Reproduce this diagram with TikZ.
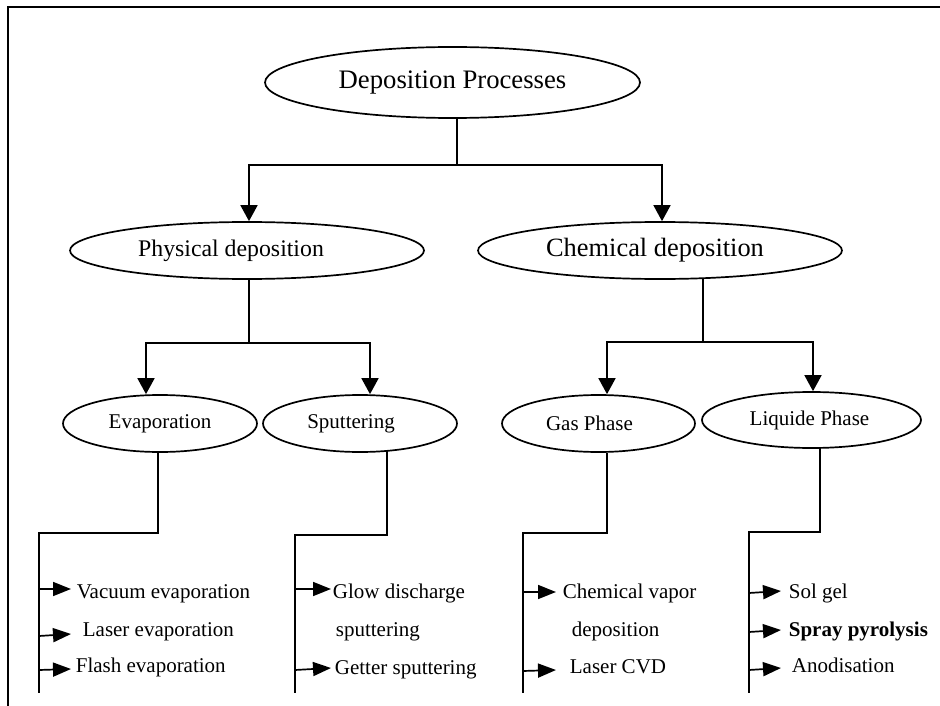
\documentclass[tikz,border=0pt]{standalone}
\usepackage{fontspec}
\setmainfont{Liberation Serif}
\usetikzlibrary{shapes.geometric,arrows.meta}
\begin{document}
\begin{tikzpicture}[x=1pt,y=-1pt,line width=1.7pt,
  ell/.style={draw,ellipse,inner sep=0pt,line width=1.7pt},
  fs/.style={font=\fontsize{#1}{#1}\selectfont},
  leaf/.style={anchor=base west,inner sep=0pt,font=\fontsize{21}{25}\selectfont},
  arr/.style={-{Triangle[length=16pt,width=17pt]}},
  sarr/.style={-{Triangle[length=18pt,width=14pt]}}]
\useasboundingbox (0,0) rectangle (940,706);
% frame
\coordinate (fa) at (8,706);
\coordinate (fb) at (8,7);
\coordinate (fc) at (940,7);
\draw (fa) -- (fb) -- (fc);
% ellipses
\node[ell,minimum width=375pt,minimum height=71pt,fs=26.7] (dp) at (452.5,82.5) {Deposition Processes};
\node[ell,minimum width=354pt,minimum height=57pt,fs=23.8] (ph) at (247,250.5) {Physical deposition\hspace*{32pt}};
\node[ell,minimum width=364pt,minimum height=57pt,fs=26.4] (ch) at (660,250.5) {Chemical deposition\hspace*{10pt}};
\node[ell,minimum width=194pt,minimum height=57pt,fs=21] (ev) at (160,423.5) {Evaporation};
\node[ell,minimum width=194pt,minimum height=57pt,fs=21] (sp) at (360,423.5) {Sputtering\hspace*{18pt}};
\node[ell,minimum width=193pt,minimum height=57pt,fs=21] (gp) at (598.5,423.5) {Gas Phase\hspace*{18pt}};
\node[ell,minimum width=219pt,minimum height=56pt,fs=21] (lp) at (811.5,420) {Liquide Phase\hspace*{4pt}};
% top level connectors
\coordinate (j0) at (457,165);
\coordinate (j0l) at (249,165);
\coordinate (j0r) at (662,165);
\draw (j0 |- dp.south) -- (j0);
\draw[arr] (j0) -- (j0l) -- (j0l |- ph.north);
\draw[arr] (j0) -- (j0r) -- (j0r |- ch.north);
% physical
\coordinate (j1) at (249,343);
\coordinate (j1l) at (146,343);
\coordinate (j1r) at (370,343);
\draw (j1 |- ph.south) -- (j1);
\draw[arr] (j1) -- (j1l) -- (j1l |- ev.north);
\draw[arr] (j1) -- (j1r) -- (j1r |- sp.north);
% chemical
\coordinate (j2) at (703,342);
\coordinate (j2l) at (607,342);
\coordinate (j2r) at (813,342);
\draw (j2 |- ch.south) -- ++(0,-1) -- (j2);
\draw[arr] (j2) -- (j2l) -- (j2l |- gp.north);
\draw[arr] (j2) -- (j2r) -- (j2r |- lp.north);
% evaporation leaves
\coordinate (e1) at (158,533);
\coordinate (e2) at (39,533);
\coordinate (e3) at (39,693);
\draw (e1 |- ev.south) -- (e1) -- (e2) -- (e3);
\node[leaf] (ve) at (76,598) {Vacuum evaporation};
\node[leaf] (le) at (82,636) {Laser evaporation};
\node[leaf] (fe) at (75,672) {Flash evaporation};
\coordinate (ea1) at (39,589);
\coordinate (ea2) at (39,636);
\coordinate (ea3) at (39,670);
\draw[sarr] (ea1) -- ++(32,0);
\draw[sarr] (ea2) -- ++(32,-2);
\draw[sarr] (ea3) -- ++(32,-1);
% sputtering leaves
\coordinate (s1) at (387,535);
\coordinate (s2) at (295,535);
\coordinate (s3) at (295,693);
\draw (s1 |- sp.south) -- ++(0,-2) -- (s1) -- (s2) -- (s3);
\node[leaf] (gd) at (332,598) {Glow discharge};
\node[leaf] (gd2) at (335,636) {sputtering};
\node[leaf] (gs) at (334,674) {Getter sputtering};
\coordinate (sa1) at (295,589);
\coordinate (sa2) at (295,670);
\draw[sarr] (sa1) -- ++(36,0);
\draw[sarr] (sa2) -- ++(36,-2);
% gas phase leaves
\coordinate (g1) at (607,533);
\coordinate (g2) at (523,533);
\coordinate (g3) at (523,693);
\draw (g1 |- gp.south) -- (g1) -- (g2) -- (g3);
\node[leaf] (cv) at (562,598) {Chemical vapor};
\node[leaf] (cv2) at (571,636) {deposition};
\node[leaf] (lc) at (569,673) {Laser CVD};
\coordinate (ga1) at (523,592);
\coordinate (ga2) at (523,671);
\draw[sarr] (ga1) -- ++(33,0);
\draw[sarr] (ga2) -- ++(33,-1);
% liquide phase leaves
\coordinate (q1) at (820,532);
\coordinate (q2) at (749,532);
\coordinate (q3) at (749,693);
\draw (q1 |- lp.south) -- ++(0,-1) -- (q1) -- (q2) -- (q3);
\node[leaf] (sg) at (788,598) {Sol gel};
\node[leaf] (spy) at (788,636) {\bfseries Spray pyrolysis};
\node[leaf] (an) at (791,672) {Anodisation};
\coordinate (qa1) at (749,593);
\coordinate (qa2) at (749,632);
\coordinate (qa3) at (749,670);
\draw[sarr] (qa1) -- ++(32,-2);
\draw[sarr] (qa2) -- ++(32,-2);
\draw[sarr] (qa3) -- ++(32,-2);
\end{tikzpicture}
\end{document}
